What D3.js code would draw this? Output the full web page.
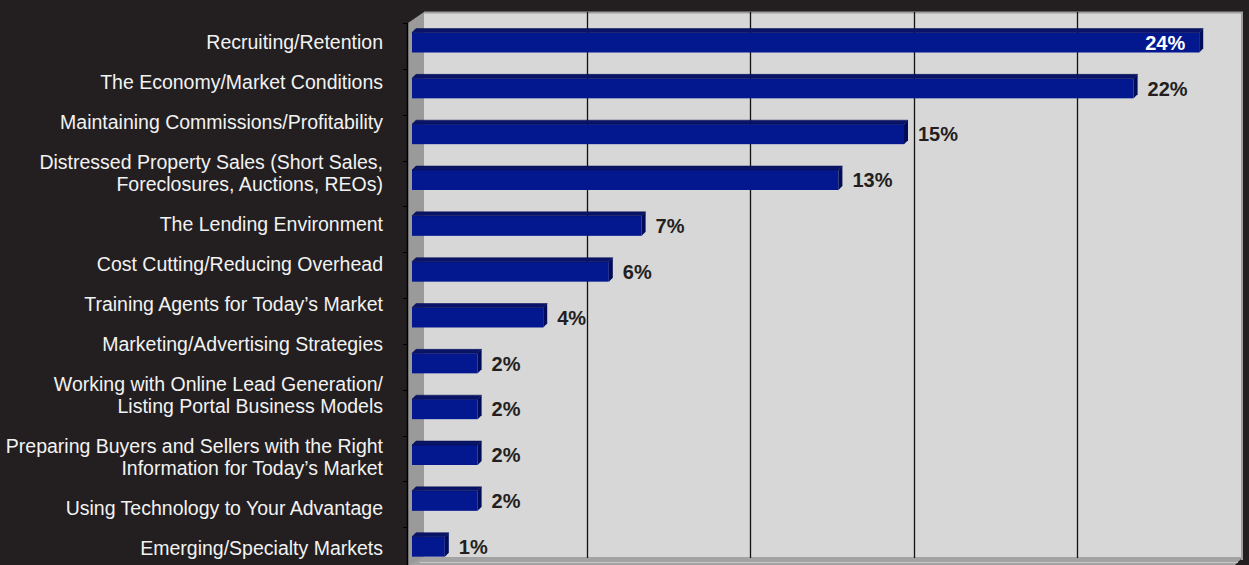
<!DOCTYPE html>
<html>
<head>
<meta charset="utf-8">
<script src="https://cdn.jsdelivr.net/npm/d3@7"></script>
<style>
body { margin: 0; background: #231f20; }
svg { display: block; }
</style>
</head>
<body>
<script>
// categories, top to bottom
var categories = [
	'Recruiting/Retention',
	'The Economy/Market Conditions',
	'Maintaining Commissions/Profitability',
	'Distressed Property Sales (Short Sales,\nForeclosures, Auctions, REOs)',
	'The Lending Environment',
	'Cost Cutting/Reducing Overhead',
	'Training Agents for Today\u2019s Market',
	'Marketing/Advertising Strategies',
	'Working with Online Lead Generation/\nListing Portal Business Models',
	'Preparing Buyers and Sellers with the Right\nInformation for Today\u2019s Market',
	'Using Technology to Your Advantage',
	'Emerging/Specialty Markets'
];
var values = [24, 22, 15, 13, 7, 6, 4, 2, 2, 2, 2, 1];
var gridTicks = [5, 10, 15, 20];

var width = 1249, height = 565;
var depth = 4; // bar 3d depth

var svg = d3.select('body').append('svg')
	.attr('width', width)
	.attr('height', height);

// front plane and back wall scales
var x = d3.scaleLinear().domain([0, 25]).range([412, 1232]);
var xBack = d3.scaleLinear().domain([0, 25]).range([424, 1240]);
var y = d3.scaleBand().domain(categories).range([23, 573]);

// back wall
svg.append('rect')
	.attr('x', 424).attr('y', 12)
	.attr('width', 1242 - 424).attr('height', 546)
	.attr('fill', '#d7d7d7');
svg.append('line')
	.attr('x1', 424).attr('y1', 12.5).attr('x2', 1243).attr('y2', 12.5)
	.attr('stroke', '#9e9e9e').attr('stroke-width', 2);
svg.append('line')
	.attr('x1', 1242).attr('y1', 12).attr('x2', 1242).attr('y2', 560)
	.attr('stroke', '#9e9e9e').attr('stroke-width', 2);

// left side wall
svg.append('polygon')
	.attr('points', '408,23 424,12 424,558 408,568')
	.attr('fill', '#9a9a9a');

// floor
svg.append('polygon')
	.attr('points', '424,557 1243,557 1234,566 408,566')
	.attr('fill', '#a3a3a3');
svg.append('line')
	.attr('x1', 420).attr('y1', 562.5).attr('x2', 1238).attr('y2', 562.5)
	.attr('stroke', '#c8c8c8').attr('stroke-width', 1);

// gridlines on back wall
svg.append('g').selectAll('line')
	.data(gridTicks)
	.enter()
	.append('line')
	.attr('x1', function(d) { return Math.round(xBack(d)) + 0.5; })
	.attr('x2', function(d) { return Math.round(xBack(d)) + 0.5; })
	.attr('y1', 12)
	.attr('y2', 558)
	.attr('stroke', '#111')
	.attr('stroke-width', 1.3);

// category axis line + ticks at band edges
svg.append('line')
	.attr('x1', 407.5).attr('y1', 23).attr('x2', 407.5).attr('y2', 565)
	.attr('stroke', '#000').attr('stroke-width', 1.5);
svg.append('g').selectAll('line')
	.data(categories)
	.enter()
	.append('line')
	.attr('x1', 403).attr('x2', 408)
	.attr('y1', function(d) { return Math.round(y(d)) + 0.5; })
	.attr('y2', function(d) { return Math.round(y(d)) + 0.5; })
	.attr('stroke', '#000');

// bars
var bars = svg.append('g').selectAll('g')
	.data(values)
	.enter()
	.append('g')
	.attr('transform', function(d, i) { return 'translate(0,' + (y(categories[i]) + 9.5) + ')'; });

bars.append('rect')
	.attr('x', x(0))
	.attr('y', 0)
	.attr('width', function(d) { return x(d) - x(0); })
	.attr('height', 20)
	.attr('fill', '#03188f');

// top face
bars.append('polygon')
	.attr('points', function(d) {
		return [[x(0), 0], [x(0) + depth, -depth], [x(d) + depth, -depth], [x(d), 0]].join(' ');
	})
	.attr('fill', '#0a1466')
	.attr('stroke', '#000b52').attr('stroke-width', 0.5);

// side face
bars.append('polygon')
	.attr('points', function(d) {
		return [[x(d), 0], [x(d) + depth, -depth], [x(d) + depth, 20 - depth], [x(d), 20]].join(' ');
	})
	.attr('fill', '#000c5a');

// value labels
var maxVal = d3.max(values);
bars.append('text')
	.attr('x', function(d) { return d == maxVal ? x(d) - 14 : x(d) + depth + 10; })
	.attr('y', 10)
	.attr('dy', '0.36em')
	.attr('text-anchor', function(d) { return d == maxVal ? 'end' : 'start'; })
	.attr('fill', function(d) { return d == maxVal ? '#fff' : '#231f20'; })
	.style('font-family', '"Liberation Sans", Arial, sans-serif')
	.style('font-weight', 'bold')
	.style('font-size', '20px')
	.text(function(d) { return d + '%'; });

// category labels, stacked like paragraphs
var labelY = 42;
var labels = svg.append('g')
	.style('font-family', '"Liberation Sans", Arial, sans-serif')
	.style('font-size', '19.5px')
	.attr('fill', '#f2f2f2')
	.attr('text-anchor', 'end');

categories.forEach(function(c) {
	var lines = c.split('\n');
	var t = labels.append('text');
	lines.forEach(function(l, j) {
		t.append('tspan')
			.attr('x', 383)
			.attr('y', labelY + j * 22)
			.attr('dy', '0.35em')
			.text(l);
	});
	labelY = labelY + (lines.length - 1) * 22 + 40;
});
</script>
</body>
</html>
